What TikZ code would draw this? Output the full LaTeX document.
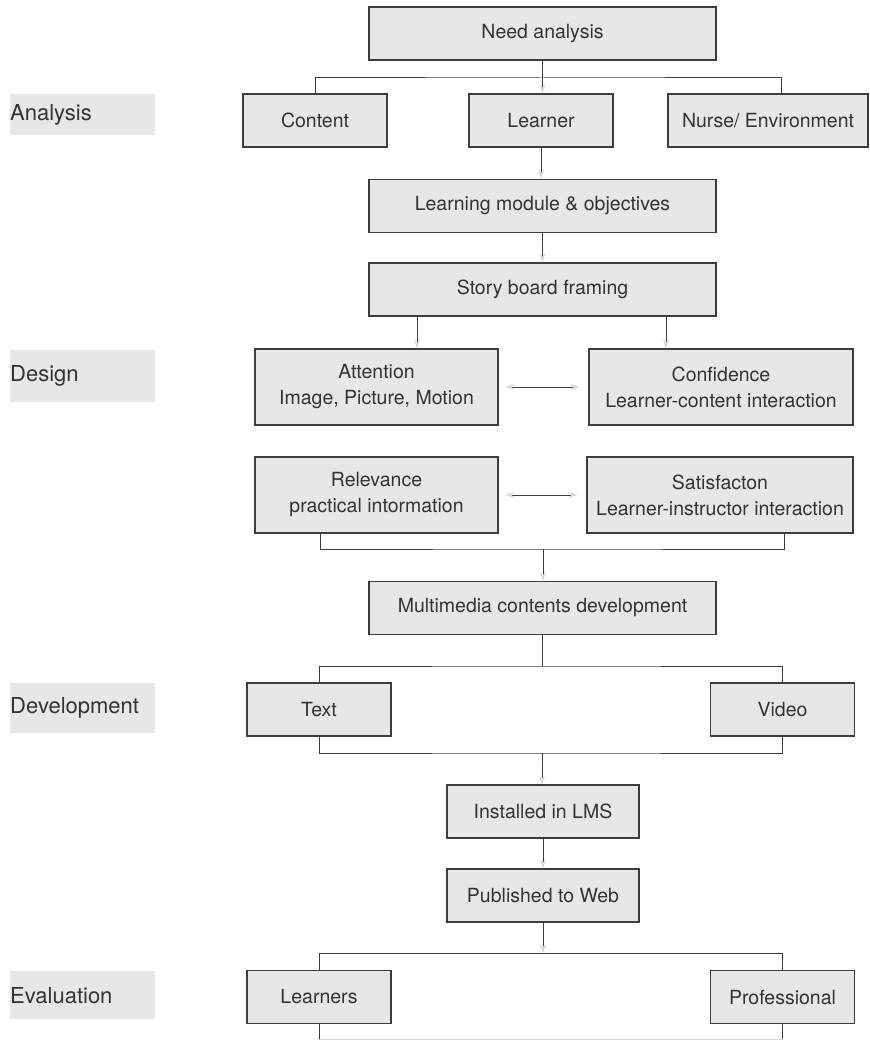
\documentclass[tikz,border=0pt]{standalone}
\usepackage{fontspec}
\setmainfont{TeX Gyre Heros}
\usetikzlibrary{positioning,arrows.meta,calc}

\definecolor{boxfill}{HTML}{E6E7E8}
\definecolor{linegray}{HTML}{3C3C3C}
\definecolor{tipgray}{HTML}{D6D6D6}
\definecolor{textgray}{HTML}{333333}

\tikzset{
  stage/.style={draw=linegray, fill=boxfill, line width=1.2pt, text=textgray,
    font=\fontsize{19.5}{26}\selectfont, align=center, inner sep=0pt,
    minimum height=53pt},
  phase/.style={fill=boxfill, text=textgray, font=\fontsize{22}{26}\selectfont,
    anchor=north west, inner xsep=0pt, inner ysep=0pt, text width=145pt,
    align=left, minimum height=41pt},
  link/.style={draw=linegray, line width=1pt},
  flow/.style={link, -{Stealth[color=tipgray, length=9pt, width=6pt]}},
  twoway/.style={link, {Stealth[color=tipgray, length=9pt, width=6pt]}-{Stealth[color=tipgray, length=9pt, width=6pt]},
    shorten <=7pt, shorten >=9pt},
}

\begin{document}
\begin{tikzpicture}[x=1pt, y=-1pt]
  \useasboundingbox (0,0) rectangle (869,1040);

  % phases on the left
  \node[phase] (analysis) at (10,94) {Analysis};
  \node[phase, minimum height=52pt] (design) at (10,350) {Design};
  \node[phase, minimum height=50pt] (development) at (10,683) {Development};
  \node[phase, minimum height=48pt] (evaluation) at (10,971) {Evaluation};

  % analysis
  \node[stage, minimum width=347pt] (need) at (542.5,33.5) {Need analysis};
  \node[stage, minimum width=144pt] (content) at (315,120.5) {Content};
  \node[stage, minimum width=144pt] (learner) at (541,120.5) {Learner};
  \node[stage, minimum width=200pt] (nurse) at (768,120.5) {Nurse/ Environment};
  \node[stage, minimum width=347pt] (module) at (542.5,206) {Learning module \& objectives};
  \node[stage, minimum width=347pt] (story) at (542.5,289.5) {Story board framing};

  % design
  \node[stage, minimum width=243pt, minimum height=76pt] (attention) at (376.5,387) {Attention\\Image, Picture, Motion};
  \node[stage, minimum width=264pt, minimum height=76pt] (confidence) at (721,387) {Confidence\\Learner-content interaction};
  \node[stage, minimum width=243pt, minimum height=76pt] (relevance) at (376.5,495) {Relevance\\practical intormation};
  \node[stage, minimum width=266pt, minimum height=76pt] (satisfaction) at (720,495) {Satisfacton\\Learner-instructor interaction};

  % development
  \node[stage, minimum width=347pt] (multimedia) at (542.5,608) {Multimedia contents development};
  \node[stage, minimum width=144pt] (txt) at (319,709.5) {Text};
  \node[stage, minimum width=144pt] (video) at (782.5,709.5) {Video};
  \node[stage, minimum width=192pt] (installed) at (543,811.5) {Installed in LMS};
  \node[stage, minimum width=192pt] (published) at (543,895.5) {Published to Web};

  % evaluation
  \node[stage, minimum width=144pt] (learners) at (319,997) {Learners};
  \node[stage, minimum width=144pt] (professional) at (782.5,997) {Professional};

  % bus points
  \coordinate (busA) at (542,78);
  \coordinate (busB) at (543,549);
  \coordinate (busC) at (542,666);
  \coordinate (busD) at (542,753);
  \coordinate (busE) at (543,953);
  \coordinate (busF) at (543,1039);
  \coordinate (dropL) at (417,0);
  \coordinate (dropR) at (666,0);
  \coordinate (colL) at (320,0);
  \coordinate (colR) at (784,0);

  % connectors
  \draw[link] (content.north) |- (busA) -| ([xshift=13pt]nurse.north);
  \draw[flow] (need.south) -- (need.south |- learner.north);
  \draw[flow] (learner.south) -- (learner.south |- module.north);
  \draw[flow] (module) -- (story);
  \draw[flow] (story.south -| dropL) -- (attention.north -| dropL);
  \draw[flow] (story.south -| dropR) -- (confidence.north -| dropR);
  \draw[twoway] (attention) -- (confidence);
  \draw[twoway] (relevance) -- (satisfaction);
  \draw[link] (relevance.south -| colL) |- (busB) -| (satisfaction.south -| colR);
  \draw[flow] (busB) -- (multimedia.north -| busB);
  \draw[link] (multimedia.south -| busC) -- (busC);
  \draw[link] (txt.north) |- (busC) -| (video.north);
  \draw[link] (txt.south) |- (busD) -| (video.south);
  \draw[flow] (busD) -- (installed.north -| busD);
  \draw[flow] (installed) -- (published);
  \draw[flow] (published.south -| busE) -- (busE);
  \draw[link] (learners.north) |- (busE) -| (professional.north);
  \draw[link] (learners.south) -- (learners.south |- busF);
  \draw[link] (professional.south) -- (professional.south |- busF);
  \draw[link, draw=tipgray] (learners.south |- busF) -- (professional.south |- busF);
\end{tikzpicture}
\end{document}
